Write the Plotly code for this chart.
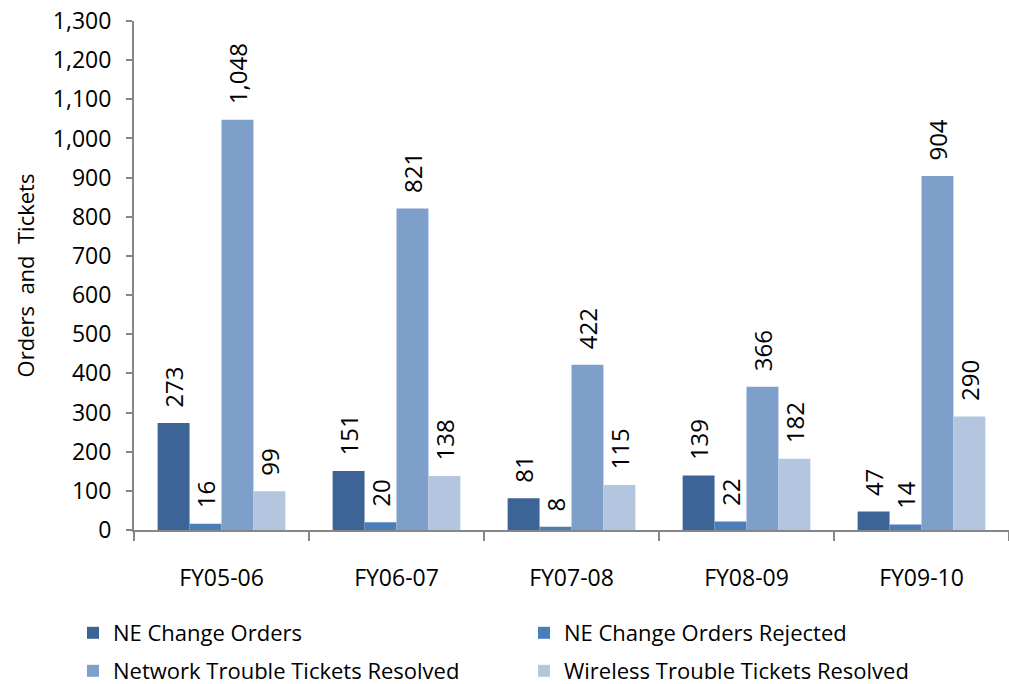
import plotly.graph_objects as go

categories = ["FY05-06", "FY06-07", "FY07-08", "FY08-09", "FY09-10"]
ne_change_orders = [273, 151, 81, 139, 47]
ne_change_rejected = [16, 20, 8, 22, 14]
network_tickets = [1048, 821, 422, 366, 904]
wireless_tickets = [99, 138, 115, 182, 290]

series = [
    ("NE Change Orders", ne_change_orders, "#3C6496", "legend"),
    ("NE Change Orders Rejected", ne_change_rejected, "#4A7EBB", "legend"),
    ("Network Trouble Tickets Resolved", network_tickets, "#7F9FCB", "legend2"),
    ("Wireless Trouble Tickets Resolved", wireless_tickets, "#B4C5E0", "legend2"),
]

FONT = "Open Sans"
fig = go.Figure()
for name, vals, color, leg in series:
    fig.add_trace(go.Bar(
        x=categories, y=vals, name=name, legend=leg,
        marker=dict(color=color, line=dict(width=0)),
        text=["\u00a0\u00a0" + f"{v:,}" for v in vals],
        textposition="outside", textangle=-90,
        constraintext="none", cliponaxis=False,
        textfont=dict(family=FONT, size=24, color="#000000"),
    ))

W, H = 1009, 684
L, T, B = 134, 21, 154
plot_h = H - T - B
plot_w = W - L

def py(win_y):
    return (H - B - win_y) / plot_h

def px(win_x):
    return (win_x - L) / plot_w

leg_common = dict(
    orientation="h", xanchor="left", yanchor="middle",
    entrywidth=406, entrywidthmode="pixels",
    font=dict(family=FONT, size=22, color="#000000"),
    bgcolor="rgba(0,0,0,0)",
)

fig.update_layout(
    width=W, height=H,
    margin=dict(l=L, r=0, t=T, b=B, autoexpand=False),
    paper_bgcolor="white", plot_bgcolor="white",
    barmode="group", bargap=0.27, bargroupgap=0,
    font=dict(family=FONT, size=23, color="#000000"),
    showlegend=True,
    legend=dict(x=px(73), y=py(633), **leg_common),
    legend2=dict(x=px(73), y=py(671), **leg_common),
    xaxis=dict(
        showline=True, linecolor="#868686", linewidth=2,
        ticks="outside", tickson="boundaries", ticklen=9, tickcolor="#868686", tickwidth=2,
        ticklabelstandoff=26,
        tickfont=dict(family=FONT, size=23),
        showgrid=False,
    ),
    yaxis=dict(
        range=[0, 1300], dtick=100, tickformat=",d",
        showline=True, linecolor="#868686", linewidth=2,
        ticks="outside", ticklen=6, tickcolor="#868686", tickwidth=2,
        ticklabelstandoff=10, ticklabeloverflow="allow",
        showgrid=False, zeroline=False,
        tickfont=dict(family=FONT, size=23),
        title=dict(text="Orders  and  Tickets", font=dict(family=FONT, size=22), standoff=12),
    ),
)

fig.write_html(
    "out.html",
    config={"displayModeBar": False},
    post_script="document.body.style.margin='0';document.body.style.overflow='hidden';",
)
